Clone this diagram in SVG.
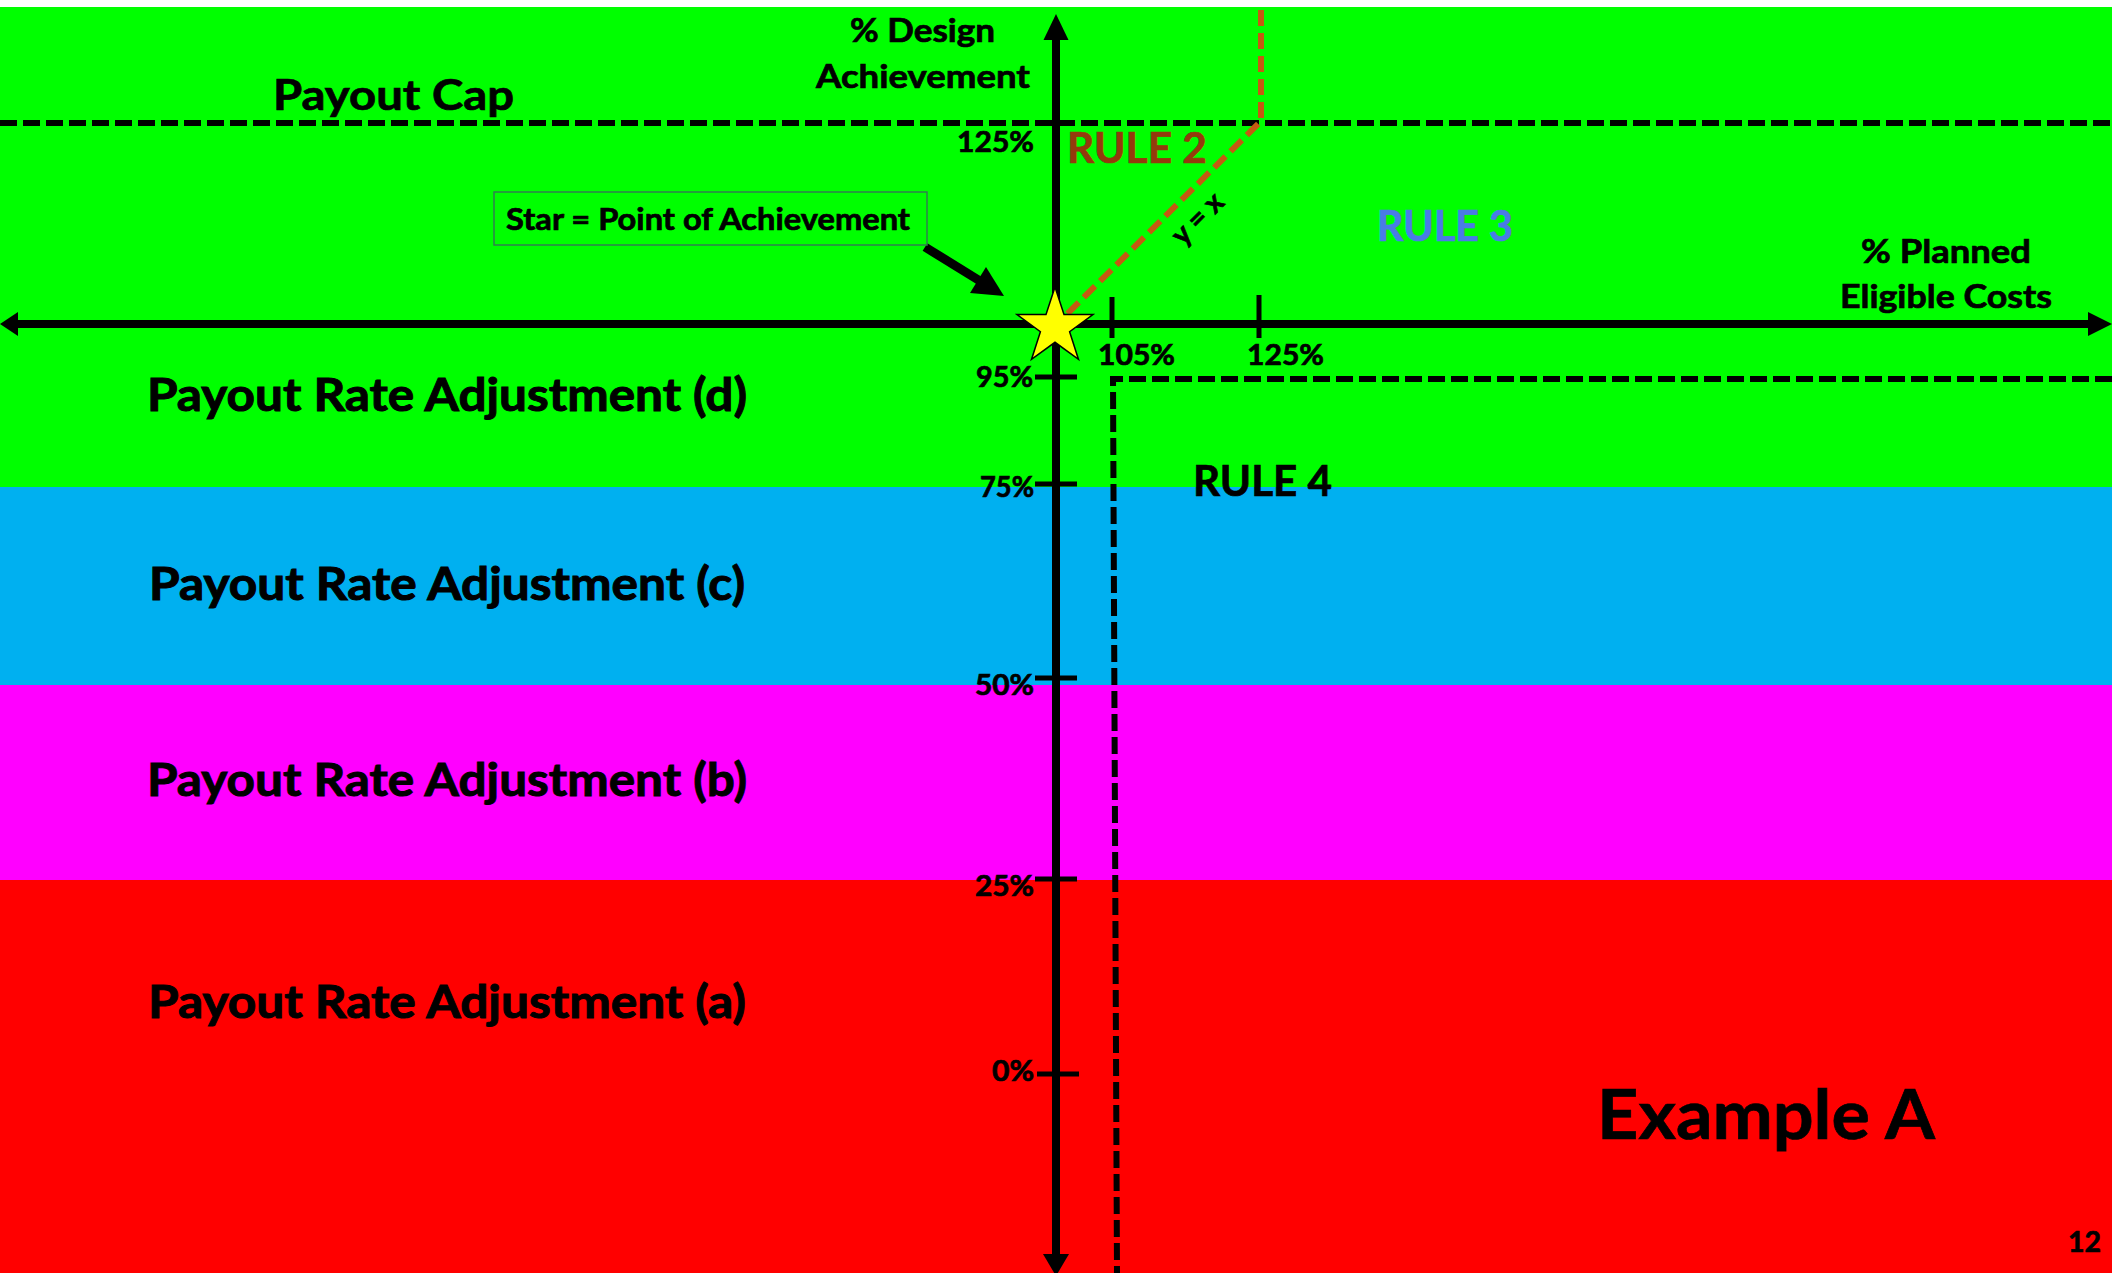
<svg xmlns="http://www.w3.org/2000/svg" width="2112" height="1273" viewBox="0 0 2112 1273">
<style>
text{font-family:Lato,"Liberation Sans",Arial,sans-serif;font-weight:bold;fill:#000;stroke:#000;stroke-width:0.7}
.band-label{font-size:46px;stroke-width:1}
.tick-label{font-size:28px}
.axis-title{font-size:33px}
.rule{font-size:42px}
.dash{stroke:#000;stroke-width:6;stroke-dasharray:17 6;fill:none}
.odash{stroke:#C55A11;stroke-width:6;stroke-dasharray:16 7;fill:none}
.axis{stroke:#000;stroke-width:8;fill:none}
.tick{stroke:#000;stroke-width:5;fill:none}
</style>
<rect x="0" y="0" width="2112" height="1273" fill="#FFFFFF"/>
<g id="bands">
<rect id="band-d" x="0" y="7" width="2112" height="480" fill="#00FF00"/>
<rect id="band-c" x="0" y="487" width="2112" height="198" fill="#00B0F0"/>
<rect id="band-b" x="0" y="685" width="2112" height="195" fill="#FF00FF"/>
<rect id="band-a" x="0" y="880" width="2112" height="393" fill="#FF0000"/>
</g>
<g id="connectors">
<line id="payout-cap-line" class="dash" x1="0" y1="123" x2="2112" y2="123"/>
<polyline id="rule4-line" class="dash" points="2112,379 1113,379 1117,1273"/>
<line id="y-axis" class="axis" x1="1056" y1="36" x2="1056" y2="1256"/>
<polygon points="1056,14 1043.5,40 1068.5,40" fill="#000"/>
<polygon points="1056,1276 1043,1254 1069,1254" fill="#000"/>
<line id="x-axis" class="axis" x1="15" y1="324" x2="2092" y2="324"/>
<polygon points="0,324 18,312 18,336" fill="#000"/>
<polygon points="2112,324 2088,312 2088,336" fill="#000"/>
<line class="tick" x1="1035" y1="377" x2="1077" y2="377"/>
<line class="tick" x1="1035" y1="484" x2="1077" y2="484"/>
<line class="tick" x1="1035" y1="678" x2="1077" y2="678"/>
<line class="tick" x1="1035" y1="879" x2="1077" y2="879"/>
<line class="tick" x1="1037" y1="1074" x2="1079" y2="1074"/>
<line class="tick" x1="1112" y1="297" x2="1112" y2="338"/>
<line class="tick" x1="1259" y1="295" x2="1259" y2="338"/>
<polyline id="rule2-line" class="odash" points="1261,10 1261,121 1063,318"/>
<line x1="925" y1="247" x2="980" y2="281" stroke="#000" stroke-width="9"/>
<polygon points="1004,296 986,267 970,293" fill="#000"/>
</g>
<g id="star">
<polygon points="1055,287 1064,314.6 1093,314.6 1069.6,331.7 1078.5,359.4 1055,342.3 1031.5,359.4 1040.4,331.7 1017,314.6 1046,314.6" fill="#FFFF00" stroke="#000" stroke-width="1.5" stroke-linejoin="miter"/>
</g>
<g id="callout">
<rect x="494" y="192" width="433" height="53" fill="#00FF00" stroke="#2F7F4F" stroke-width="1.5"/>
<text x="506" y="230" font-size="30" textLength="404" lengthAdjust="spacingAndGlyphs">Star = Point of Achievement</text>
</g>
<g id="labels">
<text id="payout-cap" x="273" y="110" font-size="42" textLength="241" lengthAdjust="spacingAndGlyphs">Payout Cap</text>
<text class="band-label" x="147" y="411" textLength="600" lengthAdjust="spacingAndGlyphs">Payout Rate Adjustment (d)</text>
<text class="band-label" x="149" y="600" textLength="596" lengthAdjust="spacingAndGlyphs">Payout Rate Adjustment (c)</text>
<text class="band-label" x="147" y="796" textLength="600" lengthAdjust="spacingAndGlyphs">Payout Rate Adjustment (b)</text>
<text class="band-label" x="148" y="1018" textLength="598" lengthAdjust="spacingAndGlyphs">Payout Rate Adjustment (a)</text>
<text class="axis-title" x="850" y="42" textLength="145" lengthAdjust="spacingAndGlyphs">% Design</text>
<text class="axis-title" x="816" y="88" textLength="214" lengthAdjust="spacingAndGlyphs">Achievement</text>
<text class="axis-title" x="1861" y="263" textLength="170" lengthAdjust="spacingAndGlyphs">% Planned</text>
<text class="axis-title" x="1840" y="308" textLength="212" lengthAdjust="spacingAndGlyphs">Eligible Costs</text>
<text class="tick-label" x="957" y="152" textLength="77" lengthAdjust="spacingAndGlyphs">125%</text>
<text class="tick-label" x="976" y="387" textLength="57" lengthAdjust="spacingAndGlyphs">95%</text>
<text class="tick-label" x="980" y="497" textLength="54" lengthAdjust="spacingAndGlyphs">75%</text>
<text class="tick-label" x="975" y="695" textLength="59" lengthAdjust="spacingAndGlyphs">50%</text>
<text class="tick-label" x="975" y="896" textLength="59" lengthAdjust="spacingAndGlyphs">25%</text>
<text class="tick-label" x="992" y="1081" textLength="42" lengthAdjust="spacingAndGlyphs">0%</text>
<text class="tick-label" x="1098" y="365" textLength="77" lengthAdjust="spacingAndGlyphs">105%</text>
<text class="tick-label" x="1247" y="365" textLength="77" lengthAdjust="spacingAndGlyphs">125%</text>
<text class="rule" x="1067" y="163" style="fill:#943A0C;stroke:#943A0C" textLength="140" lengthAdjust="spacingAndGlyphs">RULE 2</text>
<text class="rule" x="1377" y="241" style="fill:#4A7BE6;stroke:#4A7BE6" font-size="43" textLength="136" lengthAdjust="spacingAndGlyphs">RULE 3</text>
<text class="rule" x="1193" y="496" textLength="139" lengthAdjust="spacingAndGlyphs">RULE 4</text>
<text x="0" y="9" font-size="29" text-anchor="middle" transform="translate(1198,219) rotate(-45)">y = x</text>
<text x="1597" y="1139" font-size="68" stroke-width="1.2" textLength="338" lengthAdjust="spacingAndGlyphs">Example A</text>
<text x="2068" y="1252" font-size="28" textLength="33" lengthAdjust="spacingAndGlyphs">12</text>
</g>
</svg>
